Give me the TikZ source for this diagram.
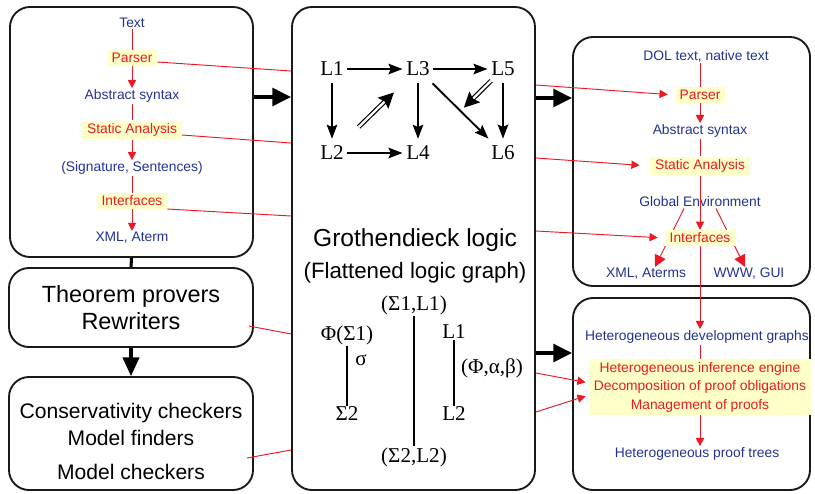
\documentclass[tikz,border=0pt]{standalone}
\usepackage{fontspec}
\setmainfont{Liberation Sans}
\newfontfamily\lserif{Liberation Serif}
\usetikzlibrary{arrows.meta,calc,fit}

\definecolor{txtblue}{RGB}{35,50,145}
\definecolor{procred}{RGB}{235,25,35}
\definecolor{hilite}{RGB}{255,255,200}

\tikzset{
  panel/.style={draw=black!90, line width=1.6pt, rounded corners=0.6cm, inner sep=0pt},
  data/.style={text=txtblue, font=\fontsize{11.8}{14}\selectfont, inner sep=1pt},
  proc/.style={text=procred, fill=hilite, font=\fontsize{11.8}{14}\selectfont, inner xsep=4pt, inner ysep=2.5pt},
  flow/.style={draw=procred, line width=0.8pt},
  flowarr/.style={flow, -{Triangle[length=7pt,width=7pt]}},
  logic/.style={font=\lserif\fontsize{18}{20}\selectfont, inner xsep=3pt, inner ysep=6pt},
  greek/.style={font=\lserif\fontsize{18}{20}\selectfont, inner sep=1pt},
  morph/.style={line width=1.6pt, -{Stealth[length=12pt,width=9pt,inset=2pt]}},
  dblarr/.style={double, double distance=2pt, line width=1pt, -{Stealth[length=13pt,width=13pt,inset=2pt]}},
  bigarr/.style={line width=3.4pt, -{Triangle[length=16pt,width=15pt]}},
  tool/.style={align=center}
}

\begin{document}
\begin{tikzpicture}[x=0.03cm, y=-0.03cm]
\useasboundingbox (0,0) rectangle (815,493);

% panels
\node[panel, fit={(10,7) (253,257)}] (inbox) {};
\node[panel, fit={(9,268) (253,347)}] (provers) {};
\node[panel, fit={(9,377) (253,490)}] (checkers) {};
\node[panel, fit={(292,7) (535,490)}] (groth) {};
\node[panel, fit={(573,37) (810,286)}] (outbox) {};
\node[panel, fit={(573,298) (810,490)}] (proofbox) {};

% input side
\node[data] (lText) at (132,23) {Text};
\node[proc] (lParser) at (132,58) {Parser};
\node[data] (lAbs) at (132,96) {Abstract syntax};
\node[proc] (lStat) at (132,130) {Static Analysis};
\node[data] (lSig) at (132,168) {(Signature, Sentences)};
\node[proc] (lInt) at (132,201) {Interfaces};
\node[data] (lXml) at (132,238) {XML, Aterm};

\draw[flow] (lText) -- (lParser);
\draw[flowarr] (lParser) -- (lAbs);
\draw[flow] (lAbs) -- (lStat);
\draw[flowarr] (lStat) -- (lSig);
\draw[flow] (lSig) -- (lInt);
\draw[flowarr] (lInt) -- (lXml);

\node[tool, font=\fontsize{20}{23}\selectfont] (provTxt) at (131,308) {Theorem provers\\Rewriters};
\node[tool, font=\fontsize{18}{23.5}\selectfont] (checkTxt) at (131,441) {Conservativity checkers\\Model finders\\[5pt]Model checkers};

% logic graph
\node[logic] (L1) at (332,69) {L1};
\node[logic] (L3) at (418,69) {L3};
\node[logic] (L5) at (503,69) {L5};
\node[logic] (L2) at (332,153) {L2};
\node[logic] (L4) at (418,153) {L4};
\node[logic] (L6) at (503,153) {L6};

\draw[morph] (L1) -- (L3);
\draw[morph] (L3) -- (L5);
\draw[morph] (L1) -- (L2);
\draw[morph] (L3) -- (L4);
\draw[morph] (L5) -- (L6);
\draw[morph] (L2) -- (L4);
\draw[morph] (L3) -- (L6);
\draw[dblarr] ($(L2)!0.31!(L3)$) -- ($(L2)!0.72!(L3)$);
\draw[dblarr] ($(L5)!0.14!(L4)$) -- ($(L5)!0.46!(L4)$);

\node[font=\fontsize{21}{24}\selectfont] (gTitle) at (415,240) {Grothendieck logic};
\node[font=\fontsize{19}{22}\selectfont] (gSub) at (415,273) {(Flattened logic graph)};

\node[greek] (sigLp) at (414,305) {(Σ1,L1)};
\node[greek] (phiS) at (347,335) {Φ(Σ1)};
\node[greek] (sigma) at (361,360) {σ};
\node[greek] (sig2) at (347,414) {Σ2};
\node[greek] (sigLq) at (414,457) {(Σ2,L2)};
\node[greek] (lA) at (454,332) {L1};
\node[greek] (lB) at (454,414) {L2};
\node[greek] (triple) at (492,368) {(Φ,α,β)};

\draw[line width=1.6pt] (phiS) -- (sig2);
\draw[line width=1.6pt] (sigLp) -- (sigLq);
\draw[line width=1.6pt] (lA) -- (lB);

% output side
\node[data] (rDol) at (706,56) {DOL text, native text};
\node[proc] (rParser) at (700,95) {Parser};
\node[data] (rAbs) at (700,131) {Abstract syntax};
\node[proc] (rStat) at (700,166) {Static Analysis};
\node[data] (rEnv) at (700,202) {Global Environment};
\node[data] (rXml) at (646,274) {XML, Aterms};
\node[data] (rWww) at (749,274) {WWW, GUI};
\draw[flowarr, -{Triangle[length=10pt,width=10pt]}] ($(rEnv.south)+(-16,0)$) -- ($(rXml.north)+(9,0)$);
\draw[flowarr, -{Triangle[length=10pt,width=10pt]}] ($(rEnv.south)+(16,0)$) -- ($(rWww.north)+(-4,0)$);
\node[proc] (rInt) at (700,238) {Interfaces};

\node[data] (rHdg) at (697,337) {Heterogeneous development graphs};
\node[proc, align=center, minimum width=6.48cm, minimum height=1.5cm,
      font=\fontsize{11.8}{15.8}\selectfont] (rEngine) at (700,387)
  {Heterogeneous inference engine\\Decomposition of proof obligations\\Management of proofs};
\node[data] (rTree) at (697,454) {Heterogeneous proof trees};

\draw[flow] (rParser |- rDol.south) -- (rParser);
\draw[flowarr] (rParser) -- (rAbs);
\draw[flow] (rAbs) -- (rStat);
\draw[flowarr] (rStat) -- (rInt);
\draw[flowarr] (rInt) -- (rInt |- rHdg.north);
\draw[flow] (rEngine |- rHdg.south) -- (rEngine);
\draw[flowarr] (rEngine.south) -- (rEngine.south |- rTree.north);

% black connectors
\draw[line width=2.6pt] (inbox.south) -- (provers.north);
\draw[line width=2.6pt, -{Triangle[length=16pt,width=14pt]}] (provers.south) -- (checkers.north);
\draw[bigarr] (inbox.east |- 0,97) -- (groth.west |- 0,97);
\draw[bigarr] (groth.east |- 0,98) -- (outbox.west |- 0,98);
\draw[bigarr] (groth.east |- 0,353) -- (proofbox.west |- 0,353);

% red links
\draw[flow] ($(lParser.east)+(0,4)$) -- (groth.west |- 0,71);
\draw[flow] ($(lStat.east)+(0,5)$) -- (groth.west |- 0,143);
\draw[flow] ($(lInt.east)+(0,8)$) -- (groth.west |- 0,216);
\draw[flow] ($(provers.east |- 0,326)+(-5,0)$) -- (groth.west |- 0,334);
\draw[flow] ($(checkers.east |- 0,458)+(-7,0)$) -- (groth.west |- 0,450);
\draw[flowarr, shorten >=6pt] (groth.east |- 0,85) -- (rParser.west);
\draw[flowarr, shorten >=9pt] (groth.east |- 0,158) -- (rStat.west);
\draw[flowarr, shorten >=6pt] (groth.east |- 0,231) -- (rInt.west);
\draw[flowarr, shorten >=3pt] (groth.east |- 0,373) -- (rEngine.west |- 0,383);
\draw[flowarr, shorten >=3pt] (groth.east |- 0,412) -- (rEngine.west |- 0,395);
\end{tikzpicture}
\end{document}
